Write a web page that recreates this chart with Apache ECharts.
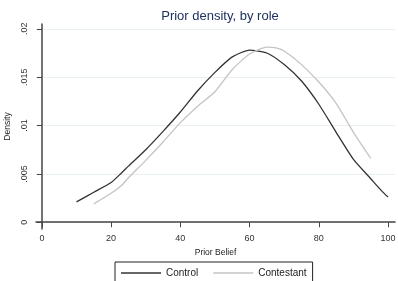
<!DOCTYPE html>
<html>
<head>
<meta charset="utf-8">
<script src="https://cdn.jsdelivr.net/npm/echarts@6/dist/echarts.min.js"></script>
<style>
  html, body { margin: 0; padding: 0; background: #fff; }
  #chart { width: 398px; height: 281px; }
</style>
</head>
<body>
<div id="chart"></div>
<script>
var controlX = [10, 15, 20, 23, 25, 30, 35, 40, 45, 50, 55, 60, 65, 70, 75, 80, 85, 90, 95, 98, 100];
var controlY = [0.0021, 0.0031, 0.0041, 0.0051, 0.0058, 0.0075, 0.0094, 0.0114, 0.0136, 0.0155, 0.0171, 0.0178, 0.0175, 0.0163, 0.0146, 0.0122, 0.0093, 0.0065, 0.0045, 0.0033, 0.0026];
var contestantX = [15, 20, 23, 25, 30, 35, 40, 45, 50, 55, 60, 65, 68, 70, 75, 80, 85, 90, 95];
var contestantY = [0.0019, 0.0030, 0.0038, 0.0046, 0.0064, 0.0083, 0.0103, 0.0120, 0.0135, 0.0158, 0.0174, 0.0181, 0.0180, 0.0177, 0.0163, 0.0145, 0.0123, 0.0093, 0.0066];
var xTicks = [0, 20, 40, 60, 80, 100];
var yTicks = [0, 0.005, 0.01, 0.015, 0.02];
var yTickLabels = ['0', '.005', '.01', '.015', '.02'];

function pairs(xs, ys) {
  return xs.map(function (x, i) { return [x, ys[i]]; });
}

var chart = echarts.init(document.getElementById('chart'));
var font = 'Liberation Sans, Arial, sans-serif';

option = {
  backgroundColor: '#fff',
  animation: false,
  title: {
    text: 'Prior density, by role',
    left: 215,
    textAlign: 'center',
    top: 5,
    textStyle: { fontFamily: font, fontSize: 13, fontWeight: 'normal', color: '#1e3160' }
  },
  legend: {
    left: 115,
    top: 262,
    padding: [5, 6, 10, 6],
    icon: 'rect',
    itemWidth: 40,
    itemHeight: 1.5,
    itemGap: 15,
    borderColor: '#222',
    borderWidth: 1,
    textStyle: { fontFamily: font, fontSize: 10, color: '#222', lineHeight: 12 },
    data: ['Control', 'Contestant']
  },
  grid: {
    left: 36,
    right: 3,
    top: 24,
    bottom: 52,
    containLabel: false,
    outerBoundsMode: 'none'
  },
  xAxis: {
    type: 'value',
    min: -1.7,
    max: 102,
    name: 'Prior Belief',
    nameLocation: 'middle',
    nameGap: 18,
    nameTextStyle: { fontFamily: font, fontSize: 8.5, color: '#222' },
    axisLine: { lineStyle: { color: '#444', width: 1.5 } },
    axisTick: { show: true, length: 5, customValues: xTicks, lineStyle: { color: '#444', width: 1 } },
    axisLabel: { customValues: xTicks, margin: 5, fontFamily: font, fontSize: 9, color: '#333' },
    splitLine: { show: false }
  },
  yAxis: {
    type: 'value',
    min: -0.0007,
    max: 0.0205,
    name: 'Density',
    nameLocation: 'middle',
    nameRotate: 90,
    nameGap: 22,
    nameTextStyle: { fontFamily: font, fontSize: 8.5, color: '#222' },
    axisLine: { show: true, lineStyle: { color: '#444', width: 1.5 } },
    axisTick: { show: true, length: 5, customValues: yTicks, lineStyle: { color: '#444', width: 1 } },
    axisLabel: {
      customValues: yTicks,
      rotate: 90,
      margin: 7,
      fontFamily: font,
      fontSize: 9,
      color: '#333',
      formatter: function (v) {
        for (var i = 0; i < yTicks.length; i++) {
          if (Math.abs(v - yTicks[i]) < 1e-9) return yTickLabels[i];
        }
        return '';
      }
    },
    splitLine: { show: true, lineStyle: { color: '#e8f0f0', width: 1 } }
  },
  series: [
    {
      name: 'Control',
      type: 'line',
      data: pairs(controlX, controlY),
      showSymbol: false,
      symbol: 'none',
      smooth: 0.2,
      lineStyle: { color: '#333', width: 1.3 },
      itemStyle: { color: '#333' }
    },
    {
      name: 'Contestant',
      type: 'line',
      data: pairs(contestantX, contestantY),
      showSymbol: false,
      symbol: 'none',
      smooth: 0.2,
      lineStyle: { color: '#c4c4c4', width: 1.3 },
      itemStyle: { color: '#c4c4c4' }
    }
  ]
};

chart.setOption(option);
</script>
</body>
</html>
